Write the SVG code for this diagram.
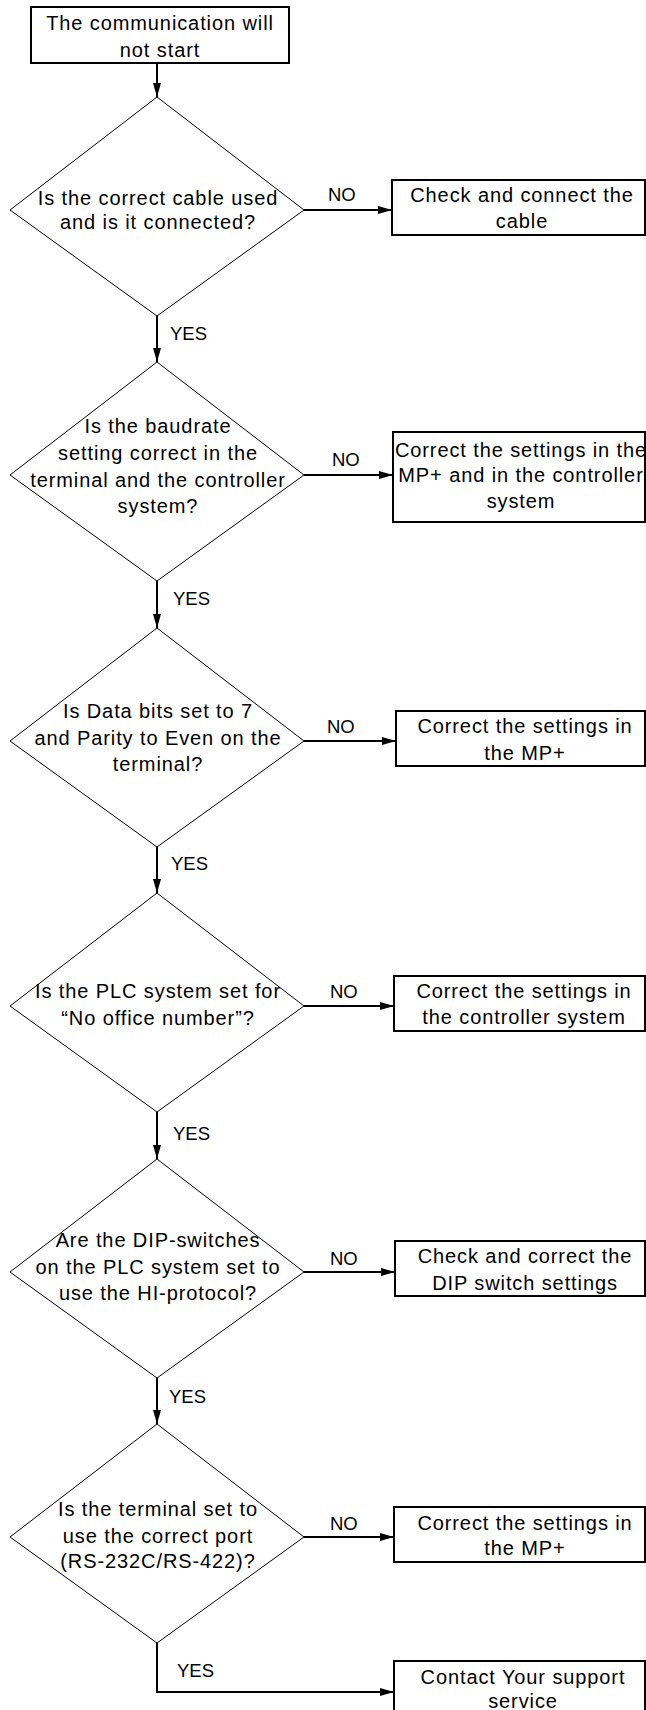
<svg xmlns="http://www.w3.org/2000/svg" width="646" height="1710" viewBox="0 0 646 1710">
<style>
  .box rect { fill: #fff; stroke: #000; stroke-width: 2; }
  .dia polygon { fill: #fff; stroke: #000; stroke-width: 1; }
  text { font-family: "Liberation Sans", Arial, sans-serif; font-size: 20px; letter-spacing: 0.9px; fill: #000; }
  .t { text-anchor: middle; }
  .lbl { font-size: 18.5px; letter-spacing: 0; }
  .conn path { fill: none; stroke: #000; stroke-width: 2; }
</style>
<defs>
  <marker id="arr" markerUnits="userSpaceOnUse" markerWidth="14" markerHeight="8" refX="14" refY="4" orient="auto">
    <path d="M0,0 L14,4 L0,8 z" fill="#000"/>
  </marker>
</defs>
<rect width="646" height="1710" fill="#fff"/>

<g id="connectors" class="conn">
  <path d="M157,63 V97" marker-end="url(#arr)"/>
  <path d="M157,316 V362" marker-end="url(#arr)"/>
  <path d="M157,581 V628" marker-end="url(#arr)"/>
  <path d="M157,847 V893" marker-end="url(#arr)"/>
  <path d="M157,1112 V1159" marker-end="url(#arr)"/>
  <path d="M157,1378 V1424" marker-end="url(#arr)"/>
  <path d="M157,1643 V1692 H394" marker-end="url(#arr)"/>
  <path d="M304,210 H392" marker-end="url(#arr)"/>
  <path d="M304,475 H393" marker-end="url(#arr)"/>
  <path d="M304,741 H396" marker-end="url(#arr)"/>
  <path d="M304,1006 H394" marker-end="url(#arr)"/>
  <path d="M304,1272 H395" marker-end="url(#arr)"/>
  <path d="M304,1537 H394" marker-end="url(#arr)"/>
  <text class="lbl" x="328" y="201">NO</text>
  <text class="lbl" x="332" y="466">NO</text>
  <text class="lbl" x="327" y="733">NO</text>
  <text class="lbl" x="330" y="998">NO</text>
  <text class="lbl" x="330" y="1265">NO</text>
  <text class="lbl" x="330" y="1530">NO</text>
  <text class="lbl" x="170" y="340">YES</text>
  <text class="lbl" x="173" y="605">YES</text>
  <text class="lbl" x="171" y="870">YES</text>
  <text class="lbl" x="173" y="1140">YES</text>
  <text class="lbl" x="169" y="1403">YES</text>
  <text class="lbl" x="177" y="1677">YES</text>
</g>

<g id="start" class="box">
  <rect x="31" y="7" width="258" height="56"/>
  <text class="t" x="160" y="30">The communication will</text>
  <text class="t" x="160" y="57">not start</text>
</g>

<g id="q1" class="dia">
  <polygon points="157,97 304,210 157,316 10,210"/>
  <text class="t" x="158" y="205">Is the correct cable used</text>
  <text class="t" x="158" y="229">and is it connected?</text>
</g>
<g id="a1" class="box">
  <rect x="392" y="180" width="253" height="55"/>
  <text class="t" x="522" y="202">Check and connect the</text>
  <text class="t" x="522" y="228">cable</text>
</g>

<g id="q2" class="dia">
  <polygon points="157,362 304,475 157,581 10,475"/>
  <text class="t" x="158" y="433">Is the baudrate</text>
  <text class="t" x="158" y="460">setting correct in the</text>
  <text class="t" x="158" y="487" letter-spacing="0">terminal and the controller</text>
  <text class="t" x="158" y="513">system?</text>
</g>
<g id="a2" class="box">
  <rect x="393" y="432" width="252" height="90"/>
  <text class="t" x="521" y="457" letter-spacing="0.3">Correct the settings in the</text>
  <text class="t" x="521" y="482" letter-spacing="0.3">MP+ and in the controller</text>
  <text class="t" x="521" y="508">system</text>
</g>

<g id="q3" class="dia">
  <polygon points="157,628 304,741 157,847 10,741"/>
  <text class="t" x="158" y="718">Is Data bits set to 7</text>
  <text class="t" x="158" y="745">and Parity to Even on the</text>
  <text class="t" x="158" y="771">terminal?</text>
</g>
<g id="a3" class="box">
  <rect x="396" y="711" width="249" height="55"/>
  <text class="t" x="525" y="733">Correct the settings in</text>
  <text class="t" x="525" y="760">the MP+</text>
</g>

<g id="q4" class="dia">
  <polygon points="157,893 304,1006 157,1112 10,1006"/>
  <text class="t" x="158" y="998">Is the PLC system set for</text>
  <text class="t" x="158" y="1025">“No office number”?</text>
</g>
<g id="a4" class="box">
  <rect x="394" y="976" width="251" height="55"/>
  <text class="t" x="524" y="998">Correct the settings in</text>
  <text class="t" x="524" y="1024">the controller system</text>
</g>

<g id="q5" class="dia">
  <polygon points="157,1159 304,1272 157,1378 10,1272"/>
  <text class="t" x="158" y="1247">Are the DIP-switches</text>
  <text class="t" x="158" y="1274">on the PLC system set to</text>
  <text class="t" x="158" y="1300">use the HI-protocol?</text>
</g>
<g id="a5" class="box">
  <rect x="395" y="1241" width="250" height="55"/>
  <text class="t" x="525" y="1263">Check and correct the</text>
  <text class="t" x="525" y="1290">DIP switch settings</text>
</g>

<g id="q6" class="dia">
  <polygon points="157,1424 304,1537 157,1643 10,1537"/>
  <text class="t" x="158" y="1516">Is the terminal set to</text>
  <text class="t" x="158" y="1543">use the correct port</text>
  <text class="t" x="158" y="1568">(RS-232C/RS-422)?</text>
</g>
<g id="a6" class="box">
  <rect x="394" y="1507" width="251" height="55"/>
  <text class="t" x="525" y="1530">Correct the settings in</text>
  <text class="t" x="525" y="1555">the MP+</text>
</g>

<g id="end" class="box">
  <rect x="394" y="1661" width="251" height="60"/>
  <text class="t" x="523" y="1684">Contact Your support</text>
  <text class="t" x="523" y="1708">service</text>
</g>
</svg>
